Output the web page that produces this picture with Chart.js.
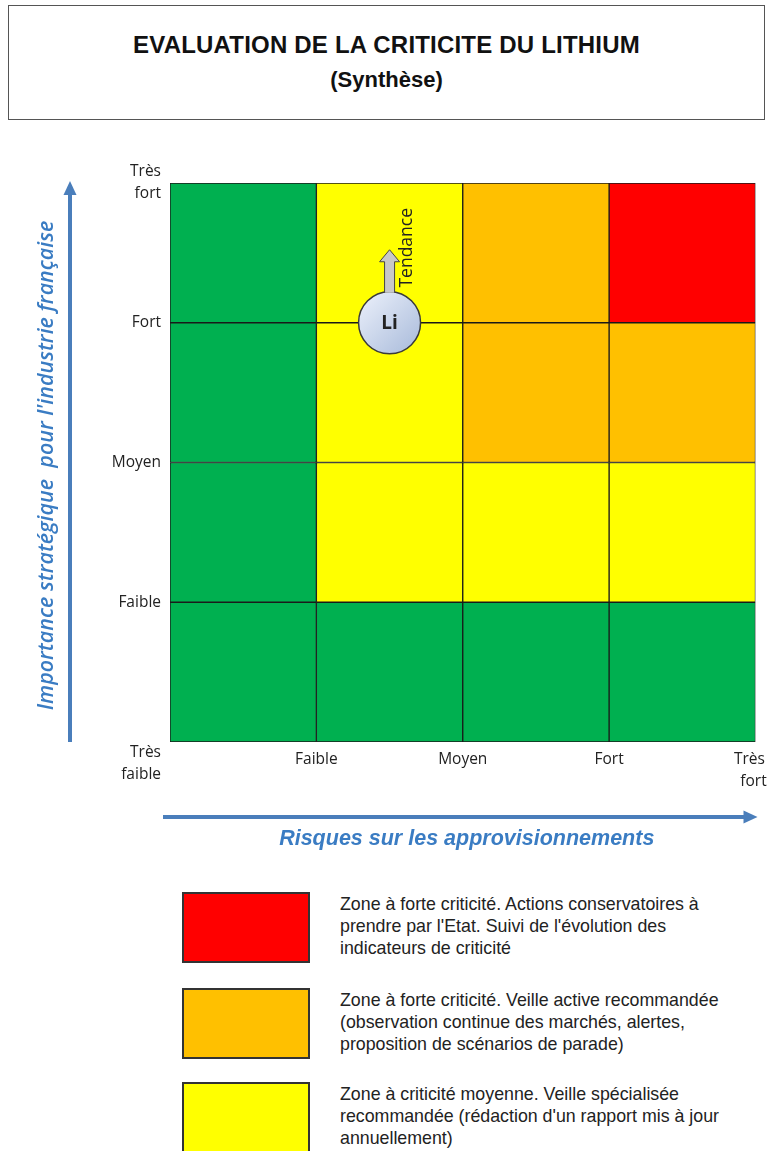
<!DOCTYPE html>
<html lang="fr">
<head>
<meta charset="utf-8">
<script src="https://cdn.jsdelivr.net/npm/chart.js@4"></script>
<style>
  body { margin: 0; width: 768px; height: 1151px; background: #fff; position: relative; overflow: hidden;
         font-family: "Liberation Sans", Arial, sans-serif; }
  #head { position: absolute; left: 8px; top: 5px; width: 757px; height: 115px; border: 1.5px solid #555;
          box-sizing: border-box; text-align: center; font-weight: bold; color: #111; }
  #head div { position: absolute; left: 0; right: 0; line-height: 28px; }
  #head .t1 { top: 25px; font-size: 24px; letter-spacing: 0.2px; }
  #head .t2 { top: 60px; font-size: 22px; }
  #plot { position: absolute; left: 0; top: 130px; width: 788px; height: 730px; }
  .legbox { position: absolute; left: 182px; width: 128px; height: 71px; border: 2px solid #333; box-sizing: border-box; }
  .legtxt { position: absolute; left: 340px; width: 425px; font-size: 17.8px; line-height: 22px; color: #222;
            white-space: nowrap; }
</style>
</head>
<body>
<div id="head">
  <div class="t1">EVALUATION DE LA CRITICITE DU LITHIUM</div>
  <div class="t2">(Synthèse)</div>
</div>
<div id="plot"><canvas id="matrix"></canvas></div>
<div id="legend"></div>

<script>
  // niveaux des deux axes
  const levels = ['Très faible', 'Faible', 'Moyen', 'Fort', 'Très fort'];
  // centres des colonnes (risques sur les approvisionnements)
  const columns = [0.5, 1.5, 2.5, 3.5];
  const cellHeight = [1, 1, 1, 1];
  // zones de chaque rangée, du bas vers le haut (importance stratégique)
  const rowTresFaible = ['vert', 'vert', 'vert', 'vert'];
  const rowFaible = ['vert', 'jaune', 'jaune', 'jaune'];
  const rowMoyen = ['vert', 'jaune', 'orange', 'orange'];
  const rowFort = ['vert', 'jaune', 'orange', 'rouge'];
  const rows = [rowTresFaible, rowFaible, rowMoyen, rowFort];
  // position du lithium : risque entre Faible et Moyen, importance Fort
  const lithium = [{ x: 1.5, y: 3 }];

  const zoneColors = { rouge: '#ff0000', orange: '#ffc000', jaune: '#ffff00', vert: '#00b050' };

  const legendZones = ['rouge', 'orange', 'jaune'];
  const legendTexts = [
    ["Zone à forte criticité. Actions conservatoires à", "prendre par l'Etat. Suivi de l'évolution des", "indicateurs de criticité"],
    ["Zone à forte criticité. Veille active recommandée", "(observation continue des marchés, alertes,", "proposition de scénarios de parade)"],
    ["Zone à criticité moyenne. Veille spécialisée", "recommandée (rédaction d'un rapport mis à jour", "annuellement)"]
  ];

  // legende
  const legTop = [892, 988, 1082];
  const legend = document.getElementById('legend');
  legendZones.forEach((z, i) => {
    const box = document.createElement('div');
    box.className = 'legbox';
    box.style.top = legTop[i] + 'px';
    box.style.background = zoneColors[z];
    legend.appendChild(box);
    const txt = document.createElement('div');
    txt.className = 'legtxt';
    txt.style.top = (legTop[i] + 1) + 'px';
    txt.innerHTML = legendTexts[i].join('<br>');
    legend.appendChild(txt);
  });

  const blue = '#4a7ebb';
  const blueText = '#3a7cc3';

  function arrowHead(ctx, x, y, dir, w, h) {
    ctx.beginPath();
    if (dir === 'up') { ctx.moveTo(x, y); ctx.lineTo(x - w / 2, y + h); ctx.lineTo(x + w / 2, y + h); }
    else { ctx.moveTo(x, y); ctx.lineTo(x - h, y - w / 2); ctx.lineTo(x - h, y + w / 2); }
    ctx.closePath();
    ctx.fill();
  }

  // dernier libellé de l'axe x : aligné à droite comme sur l'original
  function xLabel(v) {
    if (v === 0) return '';
    const parts = levels[v].split(' ');
    if (v === levels.length - 1) return [parts[0] + '\u00a0\u00a0\u00a0', parts[1] + '\u00a0'];
    return parts;
  }

  const decor = {
    id: 'decor',
    afterDatasetsDraw(chart) {
      const ctx = chart.ctx;
      const el = chart.getDatasetMeta(0).data[0];
      const r = el.options.radius;
      // fleche tendance
      const top = el.y - r - 42, base = el.y - r + 1;
      ctx.save();
      ctx.fillStyle = '#c8c8c8';
      ctx.strokeStyle = '#444';
      ctx.lineWidth = 1;
      ctx.beginPath();
      ctx.moveTo(el.x - 5, base);
      ctx.lineTo(el.x - 5, top + 12);
      ctx.lineTo(el.x - 10, top + 12);
      ctx.lineTo(el.x, top);
      ctx.lineTo(el.x + 10, top + 12);
      ctx.lineTo(el.x + 5, top + 12);
      ctx.lineTo(el.x + 5, base);
      ctx.fill();
      ctx.stroke();
      // texte Li
      ctx.fillStyle = '#222';
      ctx.font = 'bold 19px "Open Sans"';
      ctx.textAlign = 'center';
      ctx.textBaseline = 'middle';
      ctx.fillText('Li', el.x, el.y + 1);
      // Tendance
      ctx.translate(el.x + 17, el.y - r - 44);
      ctx.rotate(-Math.PI / 2);
      ctx.font = '17.5px "Open Sans"';
      ctx.fillText('Tendance', 0, 0);
      ctx.restore();
    },
    afterDraw(chart) {
      const ctx = chart.ctx;
      const a = chart.chartArea;
      ctx.save();
      ctx.strokeStyle = blue;
      ctx.fillStyle = blue;
      ctx.lineWidth = 4;
      // fleche verticale
      const ax = a.left - 100;
      ctx.beginPath();
      ctx.moveTo(ax, a.bottom);
      ctx.lineTo(ax, a.top + 10);
      ctx.stroke();
      arrowHead(ctx, ax, a.top - 2, 'up', 13, 14);
      // fleche horizontale
      const ay = a.bottom + 75;
      ctx.beginPath();
      ctx.moveTo(a.left - 7, ay);
      ctx.lineTo(a.right - 8, ay);
      ctx.stroke();
      arrowHead(ctx, a.right + 2, ay, 'right', 13, 14);
      // titres d'axes
      ctx.fillStyle = blueText;
      ctx.textAlign = 'center';
      ctx.textBaseline = 'middle';
      ctx.font = 'italic bold 21.5px "Liberation Sans"';
      ctx.fillText('Risques sur les approvisionnements', (a.left + a.right) / 2 + 4, a.bottom + 97);
      ctx.translate(47, (a.top + a.bottom) / 2 + 3);
      ctx.rotate(-Math.PI / 2);
      ctx.font = 'italic 600 21.5px "Open Sans"';
      ctx.fillText("Importance stratégique  pour l'industrie française", 0, 0);
      ctx.restore();
    }
  };

  const datasets = [{
    type: 'bubble',
    data: lithium,
    radius: 31,
    borderColor: '#3a3a3a',
    borderWidth: 1.5,
    hoverRadius: 0,
    backgroundColor(c) {
      const chart = c.chart;
      if (!chart.chartArea || !c.raw) return '#c9d5ec';
      const px = chart.scales.x.getPixelForValue(c.raw.x);
      const py = chart.scales.y.getPixelForValue(c.raw.y);
      const g = chart.ctx.createLinearGradient(px - 25, py - 25, px + 25, py + 25);
      g.addColorStop(0, '#e6ecf8');
      g.addColorStop(1, '#aebfdd');
      return g;
    }
  }];
  rows.forEach(row => {
    datasets.push({
      type: 'bar',
      data: columns.map((x, i) => ({ x: x, y: cellHeight[i] })),
      backgroundColor: row.map(z => zoneColors[z]),
      borderColor: '#1a1a1a',
      borderWidth: 1,
      borderSkipped: false,
      barPercentage: 1,
      categoryPercentage: 1
    });
  });

  const tickFont = { family: 'Open Sans', size: 15.5, lineHeight: 1.42 };

  new Chart(document.getElementById('matrix'), {
    type: 'bar',
    data: { datasets: datasets },
    plugins: [decor],
    options: {
      responsive: true,
      maintainAspectRatio: false,
      animation: false,
      events: [],
      layout: { padding: { top: 53, right: 0, bottom: 68, left: 0 } },
      plugins: { legend: { display: false }, tooltip: { enabled: false } },
      scales: {
        x: {
          type: 'linear', min: 0, max: 4, stacked: true, offset: false,
          grid: { display: false, tickLength: 0 }, border: { display: false },
          ticks: {
            stepSize: 1, autoSkip: false, maxRotation: 0, padding: 7, color: '#222', font: tickFont,
            callback: xLabel
          },
          afterFit(s) { s.height = 50; s.paddingLeft = 0; s.paddingRight = 0; }
        },
        y: {
          type: 'linear', min: 0, max: 4, stacked: true, offset: false,
          grid: { display: false, tickLength: 0 }, border: { display: false },
          ticks: {
            stepSize: 1, padding: 9, color: '#222', font: tickFont,
            callback: v => v === 0 ? ['', ''].concat(levels[v].split(' ')) : levels[v].split(' ')
          },
          afterFit(s) { s.width = 170; s.paddingTop = 0; s.paddingBottom = 0; }
        }
      }
    }
  });
</script>
</body>
</html>
